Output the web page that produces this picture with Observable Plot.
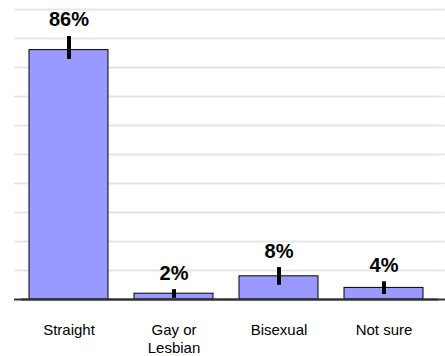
<!DOCTYPE html>
<html>
<head>
<meta charset="utf-8">
<script src="https://cdn.jsdelivr.net/npm/d3@7"></script>
<script src="https://cdn.jsdelivr.net/npm/@observablehq/plot@0.6"></script>
<style>
  html, body { margin: 0; padding: 0; background: #fff; }
  svg { display: block; font-family: "Liberation Sans", Arial, sans-serif; }
</style>
</head>
<body>
<div id="chart"></div>
<script>
const categories = ["Straight", "Gay or Lesbian", "Bisexual", "Not sure"];
const tickLabels = ["Straight", "Gay or\nLesbian", "Bisexual", "Not sure"];
const values = [86, 2, 8, 4];
const errLow = [82.8, 0.4, 4.9, 1.7];
const errHigh = [90.7, 3.4, 11, 6.1];
const valueLabels = ["86%", "2%", "8%", "4%"];
const gridTicks = [10, 20, 30, 40, 50, 60, 70, 80, 90, 100];

const data = categories.map((c, i) => ({
  cat: c, value: values[i], lo: errLow[i], hi: errHigh[i], label: valueLabels[i]
}));
const labelOf = new Map(categories.map((c, i) => [c, tickLabels[i]]));

const chart = Plot.plot({
  width: 445,
  height: 356,
  marginTop: 9,
  marginBottom: 57,
  marginLeft: 14,
  marginRight: 7,
  style: { fontFamily: "'Liberation Sans', Arial, sans-serif", background: "#fff" },
  x: { domain: categories, paddingInner: 0.245, paddingOuter: 0.123, axis: null },
  y: { domain: [0, 100], axis: null },
  marks: [
    Plot.ruleY(gridTicks, { stroke: "#e4e4e4", strokeWidth: 1.5 }),
    Plot.ruleY(gridTicks, { stroke: "#e4e4e4", strokeWidth: 1.5, dx: 7 }),
    Plot.barY(data, { x: "cat", y: "value", fill: "#9999ff", stroke: "#000", strokeWidth: 1 }),
    Plot.ruleX(data, { x: "cat", y1: "lo", y2: "hi", stroke: "#000", strokeWidth: 4 }),
    Plot.ruleY([0], { stroke: "#333", strokeWidth: 2 }),
    Plot.ruleY([0], { stroke: "#333", strokeWidth: 2, dx: 7 }),
    Plot.text(data, { x: "cat", y: "hi", text: "label", dy: -10, lineAnchor: "bottom",
      fontWeight: "bold", fontSize: 20, fill: "#000" }),
    Plot.axisX({ tickSize: 0, tickPadding: 23, fontSize: 15, lineHeight: 1.2,
      tickFormat: d => labelOf.get(d), color: "#000", label: null })
  ]
});
document.getElementById("chart").appendChild(chart);
</script>
</body>
</html>
